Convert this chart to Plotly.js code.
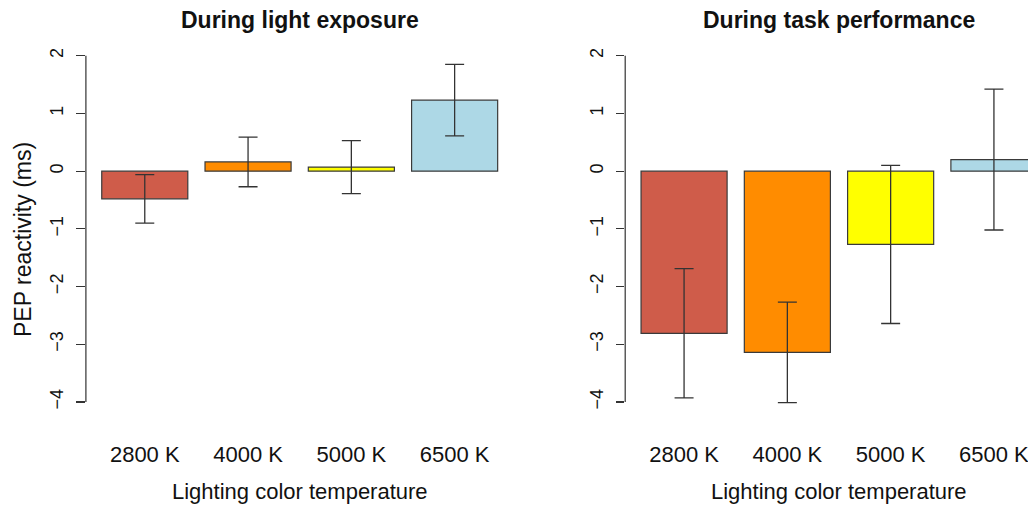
<!DOCTYPE html>
<html>
<head>
<meta charset="utf-8">
<script src="https://cdn.plot.ly/plotly-3.0.1.min.js"></script>
<style>html,body{margin:0;padding:0;background:#fff;}#chart{width:1028px;height:507px;}</style>
</head>
<body>
<div id="chart"></div>
<script>
// Data
const categories = ["2800 K", "4000 K", "5000 K", "6500 K"];
const barColors = ["#CF5C4A", "#FF8C00", "#FFFF00", "#ADD8E6"];
const lightMeans = [-0.48, 0.16, 0.07, 1.23];
const lightErrors = [0.42, 0.43, 0.46, 0.62];
const taskMeans = [-2.81, -3.14, -1.27, 0.20];
const taskErrors = [1.12, 0.87, 1.37, 1.22];
const panelTitles = ["During light exposure", "During task performance"];
const yTickVals = [-4, -3, -2, -1, 0, 1, 2];
const yTitle = "PEP reactivity (ms)";
const xTitle = "Lighting color temperature";

// R barplot positions: width 1, space 0.2
const barCenters = categories.map((c, i) => 0.7 + i * 1.2);

const W = 1028, H = 507;
const leftDom = [85.9 / W, 513.5 / W];
const rightStart = 625.2 / W;
const pxPerUnit = (513.5 - 85.9) / (4.984 - 0.016);
const rightEndX = 0.016 + (W - 625.2) / pxPerUnit;
const yDom = [1 - 415.8 / H, 1 - 41.9 / H];
const yRange = [-4.24, 2.24];

const font = "Liberation Sans, Arial, Helvetica, sans-serif";

function barTrace(means, errs, xa, ya) {
  return {
    type: "bar",
    x: barCenters,
    y: means,
    width: 1,
    xaxis: xa, yaxis: ya,
    marker: {color: barColors, line: {color: "#3a3a3a", width: 1.2}},
    error_y: {type: "data", array: errs, visible: true, color: "#333333", thickness: 1.3, width: 9.5},
    hoverinfo: "x+y",
    showlegend: false
  };
}

const data = [
  barTrace(lightMeans, lightErrors, "x", "y"),
  barTrace(taskMeans, taskErrors, "x2", "y2")
];

function xAxis(dom, range, anchor) {
  return {
    domain: dom, range: range, anchor: anchor,
    tickmode: "array", tickvals: barCenters, ticktext: categories,
    ticks: "", showline: false, showgrid: false, zeroline: false,
    tickfont: {family: font, size: 22, color: "#111"},
    ticklabelstandoff: 23,
    ticklabeloverflow: "allow",
    title: {text: ""},
    fixedrange: true
  };
}
function yAxis(anchor) {
  return {
    domain: yDom, range: yRange, anchor: anchor,
    tickmode: "array", tickvals: yTickVals,
    ticktext: yTickVals.map(v => v < 0 ? "\u2212" + Math.abs(v) : String(v)),
    ticks: "outside", ticklen: 8.5, tickwidth: 1.2, tickcolor: "#333",
    tickangle: -90,
    showline: false, showgrid: false, zeroline: false,
    tickfont: {family: font, size: 18, color: "#111"},
    ticklabelstandoff: 6,
    title: {text: ""},
    fixedrange: true
  };
}

const titleFont = {family: font, size: 23, color: "#111"};
const labFont = {family: font, size: 22, color: "#111"};

const layout = {
  width: W, height: H,
  margin: {l: 0, r: 0, t: 0, b: 0},
  paper_bgcolor: "#fff", plot_bgcolor: "#fff",
  font: {family: font, color: "#111"},
  xaxis: xAxis(leftDom, [0.016, 4.984], "y"),
  yaxis: yAxis("x"),
  xaxis2: xAxis([rightStart, 1], [0.016, rightEndX], "y2"),
  yaxis2: yAxis("x2"),
  shapes: [
    {type: "line", xref: "paper", yref: "y", x0: leftDom[0], x1: leftDom[0], y0: -4, y1: 2, line: {color: "#333", width: 1.2}},
    {type: "line", xref: "paper", yref: "y2", x0: rightStart, x1: rightStart, y0: -4, y1: 2, line: {color: "#333", width: 1.2}}
  ],
  annotations: [
    {text: "<b>" + panelTitles[0] + "</b>", xref: "paper", yref: "paper", x: (85.9 + 513.5) / 2 / W, y: 1 - 20 / H, xanchor: "center", yanchor: "middle", showarrow: false, font: titleFont},
    {text: "<b>" + panelTitles[1] + "</b>", xref: "paper", yref: "paper", x: (625.2 + 1052.8) / 2 / W, y: 1 - 20 / H, xanchor: "center", yanchor: "middle", showarrow: false, font: titleFont},
    {text: xTitle, xref: "paper", yref: "paper", x: (85.9 + 513.5) / 2 / W, y: 1 - 491.5 / H, xanchor: "center", yanchor: "middle", showarrow: false, font: labFont},
    {text: xTitle, xref: "paper", yref: "paper", x: (625.2 + 1052.8) / 2 / W, y: 1 - 491.5 / H, xanchor: "center", yanchor: "middle", showarrow: false, font: labFont},
    {text: yTitle, xref: "paper", yref: "paper", x: 23 / W, y: 1 - 240 / H, xanchor: "center", yanchor: "middle", textangle: -90, showarrow: false, font: {family: font, size: 23, color: "#111"}}
  ]
};

Plotly.newPlot("chart", data, layout, {displayModeBar: false, staticPlot: true});
</script>
</body>
</html>
